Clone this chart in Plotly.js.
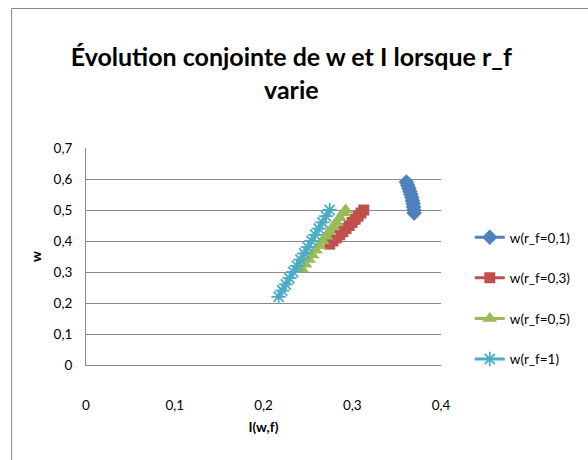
<!DOCTYPE html>
<html>
<head>
<meta charset="utf-8">
<script src="https://cdn.plot.ly/plotly-3.0.1.min.js"></script>
<style>
  html, body { margin: 0; padding: 0; background: #fff; }
  #chart { width: 588px; height: 460px; }
</style>
</head>
<body>
<div id="chart"></div>
<script>
// Series names
const seriesNames = ['w(r_f=0,1)', 'w(r_f=0,3)', 'w(r_f=0,5)', 'w(r_f=1)'];

// r_f = 0,1 (blue)
const I_rf01 = [0.3697, 0.3695, 0.3691, 0.3686, 0.3679, 0.3671, 0.3661, 0.3650, 0.3638, 0.3625, 0.3610];
const w_rf01 = [0.490, 0.500, 0.510, 0.520, 0.530, 0.540, 0.550, 0.560, 0.570, 0.580, 0.590];

// r_f = 0,3 (red)
const I_rf03 = [0.2745, 0.2783, 0.2821, 0.2858, 0.2894, 0.2930, 0.2965, 0.2999, 0.3033, 0.3066, 0.3098, 0.3130];
const w_rf03 = [0.39, 0.40, 0.41, 0.42, 0.43, 0.44, 0.45, 0.46, 0.47, 0.48, 0.49, 0.50];

// r_f = 0,5 (green)
const I_rf05 = [0.2430, 0.2469, 0.2508, 0.2547, 0.2586, 0.2625, 0.2664, 0.2704, 0.2743, 0.2782, 0.2821, 0.2860, 0.2899, 0.2925];
const w_rf05 = [0.310, 0.325, 0.340, 0.355, 0.370, 0.385, 0.400, 0.415, 0.430, 0.445, 0.460, 0.475, 0.490, 0.500];

// r_f = 1 (cyan)
const I_rf1 = [0.2170, 0.2211, 0.2252, 0.2293, 0.2335, 0.2376, 0.2417, 0.2458, 0.2499, 0.2541, 0.2582, 0.2623, 0.2664, 0.2705, 0.2746];
const w_rf1 = [0.22, 0.24, 0.26, 0.28, 0.30, 0.32, 0.34, 0.36, 0.38, 0.40, 0.42, 0.44, 0.46, 0.48, 0.50];

// Axis ticks
const xTicks = [0, 0.1, 0.2, 0.3, 0.4];
const yTicks = [0, 0.1, 0.2, 0.3, 0.4, 0.5, 0.6, 0.7];

const FONT = 'Lato, "Open Sans", sans-serif';

const traces = [
  { x: I_rf01, y: w_rf01, name: seriesNames[0], legendgroup: 'g1', mode: 'lines+markers',
    line: { color: '#4F81BD', width: 3 },
    marker: { symbol: 'diamond', size: 12, color: '#4F81BD' } },
  { x: I_rf03, y: w_rf03, name: seriesNames[1], legendgroup: 'g2', mode: 'lines+markers',
    line: { color: '#C0504D', width: 3 },
    marker: { symbol: 'square', size: 11, color: '#C0504D' } },
  { x: I_rf05, y: w_rf05, name: seriesNames[2], legendgroup: 'g3', mode: 'lines+markers',
    line: { color: '#9BBB59', width: 3 },
    marker: { symbol: 'triangle-up', size: 13, color: '#9BBB59' } },
  { x: I_rf1, y: w_rf1, name: seriesNames[3], legendgroup: 'g4', mode: 'lines+markers',
    line: { color: '#4BACC6', width: 3 },
    marker: { symbol: 'asterisk-open', size: 12, color: '#4BACC6', line: { color: '#4BACC6', width: 1.8 } } }
];

const L = 86, R = 132, T = 148, B = 95;
const pw = 588 - L - R, ph = 460 - T - B;
const px2x = p => (p - L) / pw;
const py2y = p => (460 - B - p) / ph;

const layout = {
  width: 588, height: 460,
  margin: { l: L, r: R, t: T, b: B, pad: 0 },
  paper_bgcolor: '#ffffff', plot_bgcolor: '#ffffff',
  separators: ', ',
  font: { family: FONT, size: 13.5, color: '#000000' },
  title: {
    text: 'Évolution conjointe de w et I lorsque r_f<br>varie',
    font: { family: FONT, size: 25, color: '#000000', weight: 'bold' },
    x: px2x(300), xref: 'paper', xanchor: 'center',
    y: 1 - 66 / 460, yref: 'container', yanchor: 'top'
  },
  xaxis: {
    range: [0, 0.4], tickvals: xTicks, showgrid: false, zeroline: false,
    showline: true, linecolor: '#8a8a8a', linewidth: 1,
    ticks: 'outside', ticklen: 28, tickcolor: 'rgba(0,0,0,0)',
    tickfont: { family: FONT, size: 13.5 },
    title: { text: 'I(w,f)', font: { family: FONT, size: 13.5, weight: 'bold' }, standoff: 10 },
    fixedrange: true
  },
  yaxis: {
    range: [0, 0.7], tickvals: yTicks, showgrid: true, gridcolor: '#8a8a8a', gridwidth: 1,
    zeroline: false, showline: true, linecolor: '#8a8a8a', linewidth: 1,
    ticks: 'outside', ticklen: 10, tickcolor: 'rgba(0,0,0,0)',
    tickfont: { family: FONT, size: 13.5 },
    title: { text: 'w', font: { family: FONT, size: 13.5, weight: 'bold' }, standoff: 8 },
    fixedrange: true
  },
  showlegend: true,
  legend: {
    x: px2x(486), xanchor: 'left', y: py2y(222), yanchor: 'top',
    font: { family: FONT, size: 13.5 },
    bgcolor: 'rgba(0,0,0,0)', borderwidth: 0,
    tracegroupgap: 20, itemwidth: 30
  },
  shapes: [
    { type: 'line', xref: 'paper', yref: 'paper', x0: px2x(8.5), x1: px2x(620), y0: py2y(8.5), y1: py2y(8.5),
      line: { color: '#8a8a8a', width: 1 } },
    { type: 'line', xref: 'paper', yref: 'paper', x0: px2x(8.5), x1: px2x(8.5), y0: py2y(8.5), y1: py2y(500),
      line: { color: '#8a8a8a', width: 1 } }
  ]
};

Plotly.newPlot('chart', traces, layout, { staticPlot: true, displayModeBar: false });
</script>
</body>
</html>
